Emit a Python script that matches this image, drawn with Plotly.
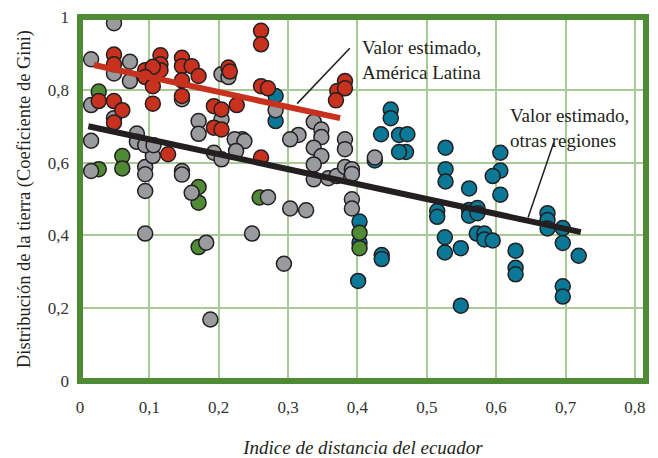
import plotly.graph_objects as go

# América Latina (red)
lat_x = [0.049, 0.049, 0.116, 0.116, 0.116, 0.094, 0.105, 0.094, 0.105, 0.147, 0.147, 0.161, 0.171,
         0.147, 0.147, 0.105, 0.027, 0.049, 0.061, 0.049, 0.193, 0.204, 0.193, 0.204, 0.214, 0.216,
         0.226, 0.261, 0.261, 0.261, 0.271, 0.382, 0.371, 0.382, 0.369, 0.127, 0.261]
lat_y = [0.897, 0.870, 0.895, 0.870, 0.854, 0.854, 0.863, 0.835, 0.810, 0.888, 0.865, 0.865, 0.838,
         0.826, 0.783, 0.762, 0.769, 0.769, 0.744, 0.710, 0.755, 0.746, 0.696, 0.691, 0.861, 0.850,
         0.758, 0.962, 0.925, 0.810, 0.804, 0.824, 0.797, 0.804, 0.771, 0.623, 0.614]

# gray group
gray_x = [0.049, 0.016, 0.049, 0.072, 0.072, 0.147, 0.016, 0.049, 0.082, 0.016, 0.171, 0.171, 0.204,
          0.204, 0.214, 0.282, 0.337, 0.348, 0.348, 0.315, 0.303, 0.382, 0.234, 0.223, 0.016, 0.094,
          0.094, 0.094, 0.105, 0.082, 0.094, 0.106, 0.147, 0.147, 0.161, 0.094, 0.182, 0.193, 0.204,
          0.237, 0.225, 0.337, 0.348, 0.337, 0.382, 0.337, 0.358, 0.370, 0.382, 0.392, 0.392, 0.425,
          0.271, 0.303, 0.326, 0.392, 0.392, 0.248, 0.294, 0.188]
gray_y = [0.983, 0.884, 0.845, 0.877, 0.824, 0.774, 0.758, 0.722, 0.680, 0.660, 0.714, 0.679, 0.719,
          0.843, 0.835, 0.744, 0.712, 0.691, 0.670, 0.676, 0.664, 0.664, 0.664, 0.664, 0.577, 0.588,
          0.568, 0.522, 0.618, 0.657, 0.648, 0.648, 0.577, 0.567, 0.517, 0.405, 0.380, 0.627, 0.609,
          0.659, 0.632, 0.641, 0.618, 0.595, 0.637, 0.554, 0.557, 0.563, 0.588, 0.582, 0.569, 0.614,
          0.505, 0.474, 0.469, 0.499, 0.474, 0.405, 0.322, 0.169]

# teal group
teal_x = [0.282, 0.282, 0.448, 0.448, 0.434, 0.460, 0.472, 0.470, 0.460, 0.527, 0.527, 0.527, 0.606,
          0.606, 0.595, 0.561, 0.606, 0.515, 0.515, 0.561, 0.561, 0.573, 0.573, 0.526, 0.526, 0.549,
          0.572, 0.583, 0.583, 0.595, 0.628, 0.628, 0.628, 0.674, 0.674, 0.674, 0.696, 0.696, 0.719,
          0.696, 0.696, 0.549, 0.403, 0.403, 0.435, 0.435, 0.401, 0.425]
teal_y = [0.783, 0.714, 0.746, 0.722, 0.678, 0.676, 0.678, 0.629, 0.629, 0.641, 0.582, 0.548, 0.627,
          0.578, 0.563, 0.529, 0.512, 0.467, 0.451, 0.470, 0.454, 0.475, 0.461, 0.395, 0.353, 0.365,
          0.405, 0.405, 0.389, 0.386, 0.358, 0.311, 0.293, 0.461, 0.442, 0.419, 0.420, 0.379, 0.344,
          0.260, 0.232, 0.207, 0.438, 0.380, 0.346, 0.335, 0.275, 0.606]

# green group
green_x = [0.027, 0.061, 0.061, 0.027, 0.171, 0.171, 0.171, 0.259, 0.403, 0.403]
green_y = [0.795, 0.618, 0.584, 0.582, 0.533, 0.490, 0.368, 0.504, 0.407, 0.365]

# estimated lines
lat_fit_x = [0.02, 0.375]
lat_fit_y = [0.868, 0.722]
oth_fit_x = [0.012, 0.722]
oth_fit_y = [0.700, 0.409]

SERIF = "Liberation Serif"
fig = go.Figure()

def dots(x, y, color):
    fig.add_trace(go.Scatter(x=x, y=y, mode="markers",
                             marker=dict(size=15, color=color, line=dict(color="#231f20", width=1.5))))

dots(teal_x, teal_y, "#0a7896")
dots(green_x, green_y, "#4f8a34")
dots(gray_x, gray_y, "#9a9b9f")
dots(lat_x, lat_y, "#c8311e")

fig.add_trace(go.Scatter(x=lat_fit_x, y=lat_fit_y, mode="lines", line=dict(color="#c8311e", width=6)))
fig.add_trace(go.Scatter(x=oth_fit_x, y=oth_fit_y, mode="lines", line=dict(color="#231f20", width=6)))

# leader lines for the labels
fig.add_shape(type="line", x0=0.389, y0=0.914, x1=0.313, y1=0.762, line=dict(color="#231f20", width=1.5))
fig.add_shape(type="line", x0=0.683, y0=0.655, x1=0.646, y1=0.449, line=dict(color="#231f20", width=1.5))

fig.add_annotation(x=0.403, y=0.95, xanchor="left", yanchor="top", showarrow=False, align="left",
                   text="Valor estimado,<br>América Latina", font=dict(family=SERIF, size=19, color="#231f20"))
fig.add_annotation(x=0.617, y=0.765, xanchor="left", yanchor="top", showarrow=False, align="left",
                   text="Valor estimado,<br>otras regiones", font=dict(family=SERIF, size=19, color="#231f20"))

# thick green frame
fig.add_shape(type="rect", xref="paper", yref="paper", x0=0, y0=0, x1=1, y1=1,
              line=dict(color="#4f8a34", width=6))

grid = "#a9c996"
fig.update_xaxes(range=[0, 0.816], tickvals=[0, 0.1, 0.2, 0.3, 0.4, 0.5, 0.6, 0.7, 0.8],
                 ticktext=["0", "0,1", "0,2", "0,3", "0,4", "0,5", "0,6", "0,7", "0,8"],
                 showgrid=True, gridcolor=grid, gridwidth=1.5, zeroline=False, showline=False,
                 ticks="", ticklabelstandoff=14, automargin=False,
                 tickfont=dict(family=SERIF, size=17, color="#333333"),
                 title=dict(text="<i>Indice de distancia del ecuador</i>", standoff=25,
                            font=dict(family=SERIF, size=19, color="#231f20")))
fig.update_yaxes(range=[0, 1], tickvals=[0, 0.2, 0.4, 0.6, 0.8, 1],
                 ticktext=["0", "0,2", "0,4", "0,6", "0,8", "1"],
                 showgrid=True, gridcolor=grid, gridwidth=1.5, zeroline=False, showline=False,
                 ticks="", ticklabelstandoff=10, automargin=False,
                 tickfont=dict(family=SERIF, size=17, color="#333333"),
                 title=dict(text="Distribución de la tierra (Coeficiente de Gini)", standoff=12,
                            font=dict(family=SERIF, size=18.5, color="#231f20")))

fig.update_layout(width=658, height=458, showlegend=False,
                  margin=dict(l=80, r=12, t=17, b=77),
                  plot_bgcolor="white", paper_bgcolor="white")

fig.write_html("out.html", config={"displayModeBar": False},
               post_script="document.body.style.margin='0px';")
